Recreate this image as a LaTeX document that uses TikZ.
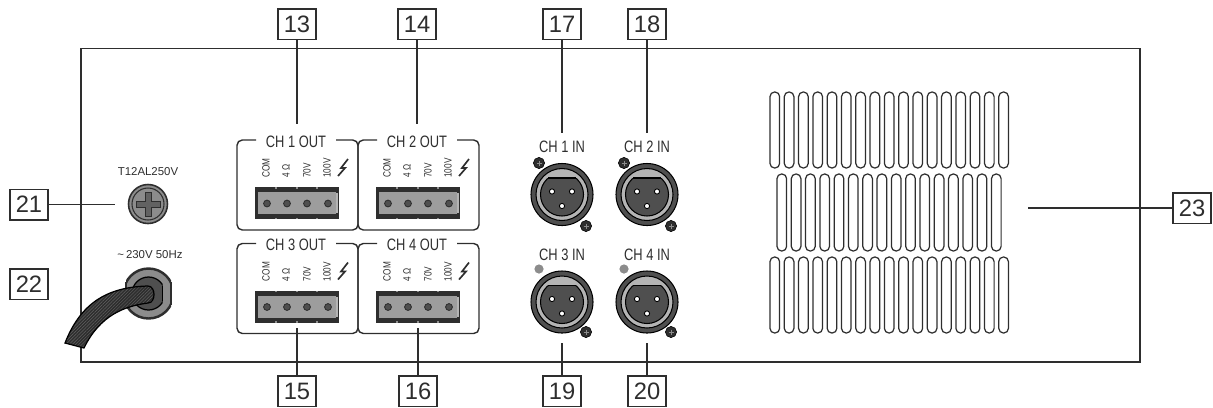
\documentclass[tikz,border=0pt]{standalone}
\usepackage{fontspec}
\setmainfont{Liberation Sans}
\newfontfamily\narrowfont[FakeStretch=0.78]{Liberation Sans}
\usetikzlibrary{patterns.meta}
\definecolor{ink}{HTML}{2E2E2E}
\definecolor{darkgrey}{HTML}{4F4F4F}
\definecolor{midgrey}{HTML}{8C8C8C}
\definecolor{lightgrey}{HTML}{B4B4B4}
\tikzset{
  numbox/.style = {draw = ink, line width = 0.85pt, fill = white, inner sep = 0pt, minimum width = 0.76cm, minimum height = 0.61cm, font = \fontsize{13.5}{13.5}\selectfont, text = ink},
  leader/.style = {draw = ink, line width = 0.8pt},
  title/.style = {font = \narrowfont\fontsize{9.4}{9.4}\selectfont, text = ink, inner sep = 0pt},
  small/.style = {font = \fontsize{6.5}{6.5}\selectfont, text = ink, inner sep = 0pt},
  tiny/.style = {font = \narrowfont\fontsize{6}{6}\selectfont, text = ink, inner sep = 0pt, rotate = 90, anchor = west},
  outblock/.pic = {
    \draw [ink, line width = 0.8pt, rounded corners = 3pt] (19, 0) to (0, 0) to (0, 90) to (121, 90) to (121, 0) to (99, 0);
    \node [title] (ttl) at (59, 1.5) {#1};
    \node [tiny] (com) at (29, 38) {COM};
    \node [tiny] (ohm) at (49, 38) {4$\,$Ω};
    \node [tiny] (sev) at (70, 38) {70V};
    \node [tiny] (hun) at (90, 38) {100V};
    \draw [ink, line width = 0.95pt, line join = miter] (111, 19) to (104, 28) to (108, 28) to (101, 36);
    \fill [ink] (18, 47) rectangle (102, 79);
    \fill [midgrey!85!white] (21, 52) rectangle (99, 74);
    \fill [lightgrey] (99, 53) rectangle (100.5, 73);
    \foreach \nx in {39, 60, 80} {
      \fill [midgrey] (\nx - 1, 47) rectangle (\nx + 1, 48.5);
      \fill [midgrey] (\nx - 1, 77.5) rectangle (\nx + 1, 79);
    }
    \foreach \nx in {30, 50, 70, 91} {
      \draw [fill = darkgrey, draw = ink, line width = 0.5pt] (\nx, 63.5) circle (3.4);
    }
  },
  xlrjack/.pic = {
    \node [title] (ttl) at (0, -47.5) {#1};
    \draw [fill = darkgrey, draw = black, line width = 0.6pt] (0, 0) circle (31);
    \draw [fill = lightgrey, draw = black, line width = 0.6pt] (0, 0) circle (26);
    \begin{scope}
      \clip (-30, -16.5) rectangle (30, 30);
      \draw [fill = darkgrey, draw = black, line width = 0.6pt] (0, 0) circle (21.5);
    \end{scope}
    \draw [black, line width = 0.6pt] (-14, -16.5) to (14, -16.5);
    \foreach \px/\py in {-10/-3, 10/-3, 0/11.5} {
      \draw [fill = white, draw = black, line width = 0.5pt] (\px, \py) circle (2.6);
    }
  }
}
\newcommand{\ventrow}[4]{%
  \foreach \nv in {1, ..., #1} {
    \draw [ink, line width = 0.7pt, rounded corners = 2.6pt] ({#2 + (\nv - 1)*14.3}, #3) rectangle ++(9.6, #4);
  }
}
\newcommand{\screwmark}[2]{%
  \draw [fill = ink, draw = black, line width = 0.3pt] (#1, #2) circle (5.6);
  \draw [midgrey, line width = 0.4pt] (#1 - 2.5, #2) to (#1 + 2.5, #2);
  \draw [midgrey, line width = 0.4pt] (#1, #2 - 2.5) to (#1, #2 + 2.5);
}
\newcommand{\cableoutline}{(65, 343) .. controls (80, 305) and (105, 287) .. (148, 286) .. controls (156, 286) and (156, 303) .. (148, 303) .. controls (125, 306) and (100, 315) .. (84, 348) -- cycle}
\begin{document}
\begin{tikzpicture}[x = 0.02cm, y = -0.02cm]
\useasboundingbox (0, 0) rectangle (1213, 407);
% housing
\draw [ink, line width = 0.85pt] (81, 48.5) rectangle (1140, 362);

% number boxes
\node [numbox] (n13) at (297, 24) {13};
\node [numbox] (n14) at (417, 24) {14};
\node [numbox] (n17) at (562, 24) {17};
\node [numbox] (n18) at (647, 24) {18};
\node [numbox] (n15) at (297, 391) {15};
\node [numbox] (n16) at (418, 391) {16};
\node [numbox] (n19) at (562, 391) {19};
\node [numbox] (n20) at (647, 391) {20};
\node [numbox] (n21) at (29, 204.5) {21};
\node [numbox] (n22) at (29, 284) {22};
\node [numbox] (n23) at (1192, 208) {23};

\coordinate (c13) at (297, 124);
\coordinate (c14) at (417, 124);
\coordinate (c17) at (562, 133);
\coordinate (c18) at (647, 133);
\coordinate (c15) at (297, 328);
\coordinate (c16) at (418, 328);
\coordinate (c19) at (562, 343);
\coordinate (c20) at (647, 343);
\coordinate (c21) at (115, 204.5);
\coordinate (c23) at (1028, 208);
\draw [leader] (n13) to (c13);
\draw [leader] (n14) to (c14);
\draw [leader] (n17) to (c17);
\draw [leader] (n18) to (c18);
\draw [leader] (n15) to (c15);
\draw [leader] (n16) to (c16);
\draw [leader] (n19) to (c19);
\draw [leader] (n20) to (c20);
\draw [leader] (n21) to (c21);
\draw [leader] (n23) to (c23);

% fuse
\node [small] (fuselabel) at (148, 172) {T12AL250V};
\draw [fill = midgrey, draw = ink, line width = 0.9pt] (148, 204) circle (19.5);
\draw [ink, line width = 0.6pt] (148, 204) circle (16);
\draw [fill = midgrey!70!black, draw = ink, line width = 0.5pt] (136, 201) -- (145, 201) -- (145, 192) -- (151, 192) -- (151, 201) -- (160, 201) -- (160, 207) -- (151, 207) -- (151, 216) -- (145, 216) -- (145, 207) -- (136, 207) -- cycle;

% mains inlet
\node [small] (mainslabel) at (150, 255) {\textasciitilde\,230V 50Hz};
\begin{scope}
  \clip (126, 260) rectangle (171, 325);
  \draw [fill = midgrey, draw = ink, line width = 1.4pt] (148.5, 293.5) circle (25);
\end{scope}
\draw [ink, line width = 0.7pt] (126, 282) to (126, 305);
\draw [ink, line width = 0.7pt] (171, 282) to (171, 305);
\begin{scope}
  \clip (126, 270) rectangle (162.5, 315);
  \draw [fill = darkgrey, draw = black, line width = 0.7pt] (148.5, 293.5) circle (16.5);
\end{scope}
\draw [black, line width = 0.7pt] (162.5, 286) to (162.5, 301);
\fill [ink] \cableoutline;
\path [pattern = {Lines[angle = 45, distance = 1.3pt, line width = 0.25pt]}, pattern color = midgrey!70!black] \cableoutline;
\draw [black, line width = 0.7pt] \cableoutline;

% output blocks
\pic (ch1out) at (237, 140) {outblock={CH 1 OUT}};
\pic (ch2out) at (358, 140) {outblock={CH 2 OUT}};
\pic (ch3out) at (237, 243.5) {outblock={CH 3 OUT}};
\pic (ch4out) at (358, 243.5) {outblock={CH 4 OUT}};

% input jacks
\pic (ch1in) at (562, 194.5) {xlrjack={CH 1 IN}};
\pic (ch2in) at (647, 194.5) {xlrjack={CH 2 IN}};
\pic (ch3in) at (562, 302) {xlrjack={CH 3 IN}};
\pic (ch4in) at (647, 302) {xlrjack={CH 4 IN}};
\screwmark{539}{163}
\screwmark{586}{226}
\screwmark{624}{163}
\screwmark{671}{226}
\screwmark{586}{332}
\screwmark{671}{332}
\fill [midgrey] (539, 269) circle (4.6);
\fill [midgrey] (624, 269) circle (4.6);

% vents
\ventrow{17}{770}{92}{76}
\ventrow{16}{777}{174}{77}
\ventrow{17}{770}{257}{76}
\end{tikzpicture}
\end{document}
